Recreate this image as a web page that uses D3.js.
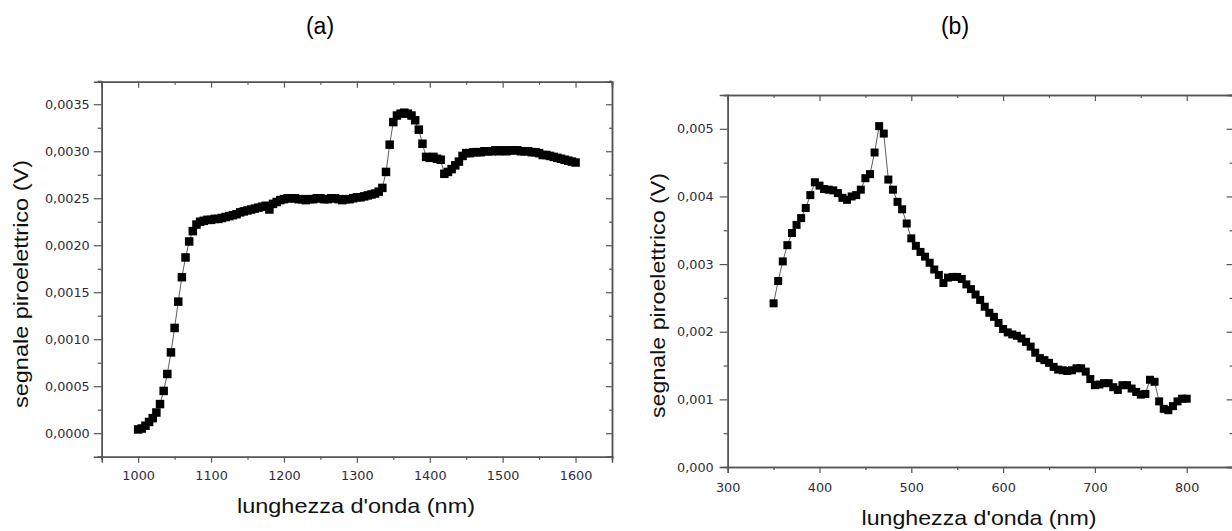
<!DOCTYPE html>
<html>
<head>
<meta charset="utf-8">
<script src="https://cdn.jsdelivr.net/npm/d3@7"></script>
<style>
  body { margin: 0; background: #fff; }
  svg { display: block; }
  .tick text { font-family: "DejaVu Sans", sans-serif; font-size: 12.8px; fill: #2f2a3a; }
  .domain, .tick line { stroke: #555; }
</style>
</head>
<body>
<svg id="chart" width="1232" height="531"></svg>
<script>
// panel (a) - near infrared
var wavelengthA = [1000, 1005, 1010, 1015, 1020, 1025, 1030, 1035, 1040, 1045, 1050, 1055, 1060, 1065, 1070, 1075, 1080, 1085, 1090, 1095,
  1100, 1105, 1110, 1115, 1120, 1125, 1130, 1135, 1140, 1145, 1150, 1155, 1160, 1165, 1170, 1175, 1180, 1185, 1190, 1195,
  1200, 1205, 1210, 1215, 1220, 1225, 1230, 1235, 1240, 1245, 1250, 1255, 1260, 1265, 1270, 1275, 1280, 1285, 1290, 1295,
  1300, 1305, 1310, 1315, 1320, 1325, 1330, 1335, 1340, 1345, 1350, 1355, 1360, 1365, 1370, 1375, 1380, 1385, 1390, 1395,
  1400, 1405, 1410, 1415, 1420, 1425, 1430, 1435, 1440, 1445, 1450, 1455, 1460, 1465, 1470, 1475, 1480, 1485, 1490, 1495,
  1500, 1505, 1510, 1515, 1520, 1525, 1530, 1535, 1540, 1545, 1550, 1555, 1560, 1565, 1570, 1575, 1580, 1585, 1590, 1595, 1600];
var signalA = [0.00004, 0.00005, 0.00008, 0.00012, 0.00016, 0.00022, 0.00031, 0.00045, 0.00063, 0.00086, 0.00112, 0.00140, 0.00166, 0.00187, 0.00204, 0.00215, 0.00222, 0.00225, 0.00226, 0.00227,
  0.00227, 0.00228, 0.00228, 0.00229, 0.00230, 0.00231, 0.00232, 0.00233, 0.00235, 0.00236, 0.00237, 0.00238, 0.00239, 0.00240, 0.00241, 0.00242, 0.00238, 0.00244, 0.00246, 0.00248,
  0.00249, 0.00250, 0.00250, 0.00250, 0.00249, 0.00249, 0.00248, 0.00249, 0.00249, 0.00250, 0.00250, 0.00249, 0.00249, 0.00250, 0.00250, 0.00249, 0.00248, 0.00249, 0.00249, 0.00250,
  0.00251, 0.00251, 0.00252, 0.00253, 0.00254, 0.00255, 0.00257, 0.00261, 0.00278, 0.00307, 0.00331, 0.00338, 0.00340, 0.00341, 0.00340, 0.00338, 0.00333, 0.00323, 0.00308, 0.00294,
  0.00293, 0.00294, 0.00292, 0.00291, 0.00276, 0.00278, 0.00281, 0.00285, 0.00289, 0.00295, 0.00298, 0.00298, 0.00299, 0.00299, 0.00299, 0.00300, 0.00300, 0.00300, 0.00301, 0.00300,
  0.00301, 0.00300, 0.00301, 0.00301, 0.00301, 0.00300, 0.00300, 0.00300, 0.00299, 0.00299, 0.00298, 0.00296, 0.00296, 0.00295, 0.00294, 0.00293, 0.00292, 0.00291, 0.00290, 0.00289, 0.00288];

// panel (b) - visible
var wavelengthB = [350, 355, 360, 365, 370, 375, 380, 385, 390, 395, 400, 405, 410, 415, 420, 425, 430, 435, 440, 445,
  450, 455, 460, 465, 470, 475, 480, 485, 490, 495, 500, 505, 510, 515, 520, 525, 530, 535, 540, 545,
  550, 555, 560, 565, 570, 575, 580, 585, 590, 595, 600, 605, 610, 615, 620, 625, 630, 635, 640, 645,
  650, 655, 660, 665, 670, 675, 680, 685, 690, 695, 700, 705, 710, 715, 720, 725, 730, 735, 740, 745,
  750, 755, 760, 765, 770, 775, 780, 785, 790, 795, 800];
var signalB = [0.00242, 0.00275, 0.00304, 0.00328, 0.00346, 0.00358, 0.00368, 0.00383, 0.00402, 0.00421, 0.00416, 0.00411, 0.00410, 0.00409, 0.00405, 0.00398, 0.00395, 0.00400, 0.00402, 0.00410,
  0.00427, 0.00433, 0.00465, 0.00504, 0.00493, 0.00425, 0.00410, 0.00392, 0.00381, 0.00360, 0.00338, 0.00327, 0.00318, 0.00311, 0.00302, 0.00292, 0.00284, 0.00272, 0.00280, 0.00281,
  0.00281, 0.00278, 0.00270, 0.00263, 0.00255, 0.00247, 0.00237, 0.00228, 0.00222, 0.00213, 0.00204, 0.00199, 0.00196, 0.00194, 0.00190, 0.00185, 0.00178, 0.00169, 0.00161, 0.00158,
  0.00154, 0.00148, 0.00144, 0.00143, 0.00142, 0.00143, 0.00146, 0.00146, 0.00141, 0.00130, 0.00121, 0.00122, 0.00124, 0.00124, 0.00118, 0.00114, 0.00121, 0.00121, 0.00116, 0.00111,
  0.00107, 0.00108, 0.00129, 0.00126, 0.00097, 0.00086, 0.00084, 0.00090, 0.00097, 0.00101, 0.00101];

// ticks
var xTicksA = [1000, 1100, 1200, 1300, 1400, 1500, 1600];
var xMinorA = [950, 1050, 1150, 1250, 1350, 1450, 1550, 1650];
var yTicksA = [0, 0.0005, 0.001, 0.0015, 0.002, 0.0025, 0.003, 0.0035];
var yMinorA = [-0.00025, 0.00025, 0.00075, 0.00125, 0.00175, 0.00225, 0.00275, 0.00325, 0.00375];
var xTicksB = [300, 400, 500, 600, 700, 800];
var xMinorB = [350, 450, 550, 650, 750, 850];
var yTicksB = [0, 0.001, 0.002, 0.003, 0.004, 0.005];
var yMinorB = [0.0005, 0.0015, 0.0025, 0.0035, 0.0045, 0.0055];

var yTitle = "segnale piroelettrico (V)";
var xTitle = "lunghezza d'onda (nm)";

var svg = d3.select("#chart");

function commaFmt(digits) {
  return function(d) { return d.toFixed(digits).replace('.', ','); };
}

function drawPanel(o) {
  var x = d3.scaleLinear().domain(o.xDomain).range([o.left, o.right]);
  var y = d3.scaleLinear().domain(o.yDomain).range([o.bottom, o.top]);
  var g = svg.append("g");

  // minor ticks first
  g.append("g").attr("transform", "translate(0," + o.bottom + ")")
    .call(d3.axisBottom(x).tickValues(o.xMinor).tickSize(3).tickFormat(""));
  g.append("g").attr("transform", "translate(0," + o.top + ")")
    .call(d3.axisTop(x).tickValues(o.xMinor).tickSize(-3).tickFormat(""));
  g.append("g").attr("transform", "translate(" + o.left + ",0)")
    .call(d3.axisLeft(y).tickValues(o.yMinor).tickSize(4).tickFormat(""));
  g.append("g").attr("transform", "translate(" + o.right + ",0)")
    .call(d3.axisRight(y).tickValues(o.yMinor).tickSize(-3).tickFormat(""));

  // major ticks
  g.append("g").attr("transform", "translate(0," + o.bottom + ")")
    .call(d3.axisBottom(x).tickValues(o.xTicks).tickSize(6).tickPadding(o.xPad).tickFormat(d3.format("d")));
  g.append("g").attr("transform", "translate(0," + o.top + ")")
    .call(d3.axisTop(x).tickValues(o.xTicks).tickSize(-6).tickFormat(""));
  g.append("g").attr("transform", "translate(" + o.left + ",0)")
    .call(d3.axisLeft(y).tickValues(o.yTicks).tickSize(8).tickPadding(o.yPad).tickFormat(commaFmt(o.digits)));
  g.append("g").attr("transform", "translate(" + o.right + ",0)")
    .call(d3.axisRight(y).tickValues(o.yTicks).tickSize(-6).tickFormat(""));

  g.selectAll(".domain").attr("stroke-width", 1.5);
  g.selectAll(".tick line").attr("stroke-width", 1.2);

  // connecting line
  var pts = o.xs.map(function(d, i) { return [d, o.ys[i]]; });
  g.append("path")
    .datum(pts)
    .attr("fill", "none")
    .attr("stroke", "#333")
    .attr("stroke-width", 0.8)
    .attr("d", d3.line().x(function(d) { return x(d[0]); }).y(function(d) { return y(d[1]); }));

  // square markers
  var s = o.marker;
  g.selectAll("rect.pt").data(pts).enter().append("rect")
    .attr("class", "pt")
    .attr("x", function(d) { return x(d[0]) - s / 2; })
    .attr("y", function(d) { return y(d[1]) - s / 2; })
    .attr("width", s).attr("height", s)
    .attr("fill", "#000");

  // axis titles
  svg.append("text")
    .attr("transform", "translate(" + o.yTitleX + "," + o.yTitleY + ") rotate(-90)")
    .attr("text-anchor", "middle")
    .attr("textLength", o.yTitleLen).attr("lengthAdjust", "spacingAndGlyphs")
    .style("font-family", "'Liberation Sans', Arial, sans-serif").style("font-size", "21px").attr("fill", "#111")
    .text(yTitle);
  svg.append("text")
    .attr("x", o.xTitleX).attr("y", o.xTitleY)
    .attr("text-anchor", "middle")
    .attr("textLength", o.xTitleLen).attr("lengthAdjust", "spacingAndGlyphs")
    .style("font-family", "'Liberation Sans', Arial, sans-serif").style("font-size", "21px").attr("fill", "#111")
    .text(xTitle);

  // panel label
  svg.append("text")
    .attr("x", o.labelX).attr("y", 34)
    .attr("text-anchor", "middle")
    .style("font-family", "'Liberation Sans', Arial, sans-serif").style("font-size", "23px").attr("fill", "#000")
    .text(o.label);
}

drawPanel({
  xs: wavelengthA, ys: signalA,
  xDomain: [950, 1650], yDomain: [-0.00025, 0.00374],
  left: 101.7, right: 612, top: 81.7, bottom: 456.7,
  xTicks: xTicksA, xMinor: xMinorA, yTicks: yTicksA, yMinor: yMinorA,
  digits: 4, xPad: 8, yPad: 4,
  marker: 8.5,
  yTitleX: 28, yTitleY: 284, yTitleLen: 248,
  xTitleX: 356, xTitleY: 513, xTitleLen: 238,
  label: "(a)", labelX: 320
});

drawPanel({
  xs: wavelengthB, ys: signalB,
  xDomain: [300, 850], yDomain: [0, 0.0055],
  left: 727.7, right: 1232.6, top: 95, bottom: 467,
  xTicks: xTicksB, xMinor: xMinorB, yTicks: yTicksB, yMinor: yMinorB,
  digits: 3, xPad: 9.5, yPad: 6,
  marker: 8,
  yTitleX: 665, yTitleY: 295.5, yTitleLen: 245,
  xTitleX: 979, xTitleY: 525, xTitleLen: 235,
  label: "(b)", labelX: 955
});
</script>
</body>
</html>
